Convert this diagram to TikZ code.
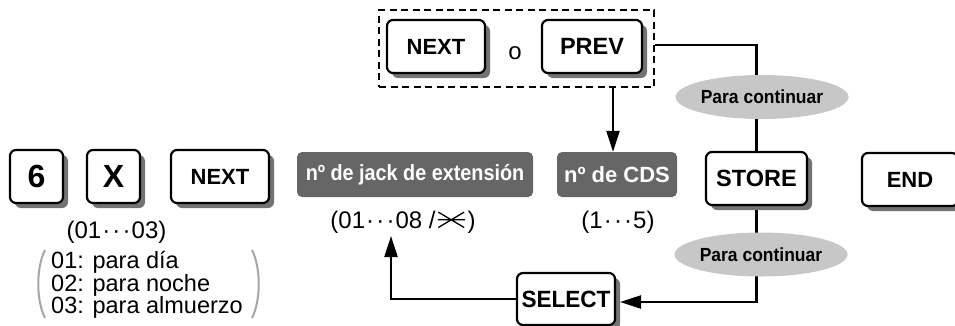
\documentclass[tikz,border=0pt]{standalone}
\usepackage{fontspec}
\setmainfont{Liberation Sans}
\usetikzlibrary{arrows.meta,shapes.geometric,calc,backgrounds}
\newcommand{\dd}{\kern1pt·\kern2.2pt·\kern2.2pt·\kern1pt}
\begin{document}
\begin{tikzpicture}[x=1pt,y=-1pt,
  key/.style={draw,line width=2.2pt,rounded corners=6pt,fill=white,inner sep=0pt,
    minimum height=53pt,font=\bfseries\fontsize{23.5}{23.5}\selectfont,
    preaction={fill=black!55,transform canvas={shift={(5pt,-5pt)}}}},
  gbox/.style={fill=black!60,rounded corners=5pt,text=white,inner sep=0pt,
    minimum height=45pt,font=\bfseries\fontsize{22}{22}\selectfont},
  ell/.style={ellipse,fill=black!22,inner sep=0pt,minimum width=143pt,minimum height=44pt,
    font=\bfseries\fontsize{19}{19}\selectfont},
  txt/.style={inner sep=0pt,font=\fontsize{24}{24}\selectfont},
  ln/.style={line width=2.2pt},
  arr/.style={-{Triangle[length=21pt,width=13pt]}}
]
\useasboundingbox (0,0) rectangle (955,325);
\clip (0,0) rectangle (955,325);

% keys
\node[key,minimum width=53pt,font=\bfseries\fontsize{32}{32}\selectfont] (k6) at (36.5,176.5) {6};
\node[key,minimum width=53pt,font=\bfseries\fontsize{32}{32}\selectfont] (kx) at (113.5,176.5) {X};
\node[key,minimum width=98pt,font=\bfseries\fontsize{22}{22}\selectfont] (knext) at (220,176.5) {NEXT};

\node[draw,line width=2.2pt,dash pattern=on 7pt off 4.5pt,minimum width=275pt,minimum height=77pt,inner sep=0pt] (grp) at (516.5,48.5) {};
\node[key,minimum width=98pt,font=\bfseries\fontsize{22}{22}\selectfont] (tnext) at (436,46.5) {NEXT};
\node[font=\fontsize{24}{24}\selectfont] (or) at (515,53) {o};
\node[key,minimum width=100pt] (tprev) at (592,46.5) {PREV};

\node[gbox,minimum width=236pt] (jack) at (415,174.5) {\scalebox{0.9}[1]{nº de jack de extensión}};
\node[gbox,minimum width=120pt] (cds) at (617,174.5) {nº de CDS};

\node[key,minimum width=101pt] (store) at (756.5,178.5) {STORE};
\node[key,minimum width=96pt,font=\bfseries\fontsize{22}{22}\selectfont] (end) at (910,179.5) {END};
\node[key,minimum width=98pt,minimum height=52pt] (sel) at (566,299) {\scalebox{0.96}[1]{SELECT}};

\node[ell] (c1) at (762,97) {\scalebox{0.92}[1]{Para continuar}};
\node[ell] (c2) at (761,254.5) {\scalebox{0.92}[1]{Para continuar}};

% texts
\node[txt] (r1) at (116.5,232) {(01\dd03)};
\node[txt] (r2) at (403,222) {(01\dd08 /\kern2pt\hspace{27pt}\kern3pt)};
\node[txt] (r3) at (618,222) {(1\dd5)};
\node[txt,align=left,anchor=north west,font=\fontsize{23.5}{22.5}\selectfont] (opts) at (51,251)
  {01: para día\\02: para noche\\03: para almuerzo};
\draw[black!35,line width=2pt] (45,250) .. controls (36,268) and (36,300) .. (45,318);
\draw[black!35,line width=2pt] (252,250) .. controls (261,268) and (261,300) .. (252,318);

% six-spoke asterisk symbol (no installed font has it)
\coordinate (sc) at ($(r2.east)+(-24.5,-2.2)$);
\draw[line width=1.3pt] ($(sc)+(-13.5,0)$) -- ($(sc)+(13.5,0)$)
  ($(sc)+(-12.9,-7.7)$) -- ($(sc)+(12.9,7.7)$)
  ($(sc)+(-12.9,7.7)$) -- ($(sc)+(12.9,-7.7)$);

\coordinate (grpout) at (613,87);
\coordinate (r2tip) at (391,236);
\coordinate (selin) at (620,302);

\begin{scope}[on background layer]
\draw[ln] ($(grp.east)+(0,-3.5)$) -| (store.north);
\draw[ln,arr] (store.south) |- (selin);
\draw[ln,arr] (sel.west) -| (r2tip);
\end{scope}
\draw[ln,arr] (grpout) -- (grpout |- cds.north);
\end{tikzpicture}
\end{document}
